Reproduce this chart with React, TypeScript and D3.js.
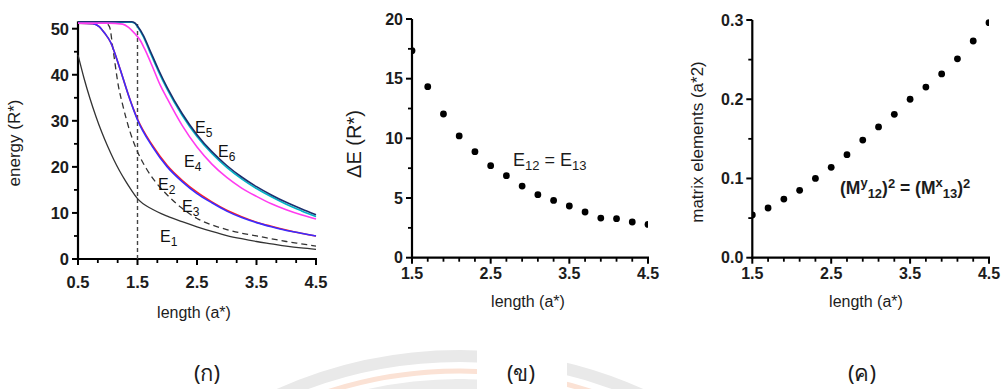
import React from "react";
import * as d3 from "d3";

// ---------- panel (ก): energy levels vs length ----------
const e1Curve: [number, number][] = [
  [0.5, 44.3], [0.6, 39.3], [0.7, 34.9], [0.8, 31.0], [0.9, 27.5], [1.0, 24.4],
  [1.1, 21.6], [1.2, 19.1], [1.3, 16.9], [1.4, 14.9], [1.5, 13.1], [1.75, 10.8],
  [2.0, 9.3], [2.25, 8.1], [2.5, 7.0], [2.75, 6.0], [3.0, 5.1], [3.25, 4.4],
  [3.5, 3.8], [3.75, 3.3], [4.0, 2.8], [4.25, 2.4], [4.5, 2.1],
];
const dashedCurve: [number, number][] = [
  [0.5, 51.2], [0.8, 51.2], [0.98, 51.1], [1.03, 50.4], [1.09, 45.4], [1.18, 37.5],
  [1.25, 33.5], [1.37, 27.8], [1.5, 23.3], [1.65, 19.6], [1.8, 16.8], [2.0, 13.9],
  [2.25, 11.0], [2.5, 8.8], [2.75, 7.4], [3.0, 6.4], [3.25, 5.6], [3.5, 5.0],
  [3.75, 4.4], [4.0, 3.8], [4.25, 3.3], [4.5, 2.8],
];
const e2Curve: [number, number][] = [
  [0.5, 51.2], [0.75, 51.1], [0.85, 50.5], [0.95, 49.0], [1.05, 47.0], [1.15, 43.5],
  [1.25, 39.5], [1.35, 35.5], [1.5, 30.4], [1.75, 24.7], [2.0, 20.3], [2.25, 17.1],
  [2.5, 14.5], [2.75, 12.4], [3.0, 10.6], [3.25, 9.2], [3.5, 8.0], [3.75, 7.1],
  [4.0, 6.3], [4.25, 5.6], [4.5, 5.0],
];
const e3Curve: [number, number][] = [
  [0.5, 51.2], [0.75, 51.1], [0.85, 50.5], [0.95, 49.0], [1.05, 47.0], [1.15, 43.5],
  [1.25, 39.5], [1.35, 35.5], [1.5, 30.2], [1.75, 24.4], [2.0, 20.0], [2.25, 16.8],
  [2.5, 14.2], [2.75, 12.2], [3.0, 10.4], [3.25, 9.0], [3.5, 7.9], [3.75, 7.0],
  [4.0, 6.2], [4.25, 5.6], [4.5, 5.0],
];
const e4Curve: [number, number][] = [
  [0.5, 51.2], [1.0, 51.2], [1.25, 51.0], [1.35, 50.3], [1.45, 49.0], [1.54, 47.6],
  [1.62, 45.6], [1.75, 41.8], [1.88, 37.8], [2.0, 34.8], [2.25, 29.0], [2.5, 24.3],
  [2.75, 20.6], [3.0, 17.7], [3.25, 15.4], [3.5, 13.6], [3.75, 12.0], [4.0, 10.7],
  [4.25, 9.6], [4.5, 8.7],
];
const e5Curve: [number, number][] = [
  [0.5, 51.5], [1.0, 51.5], [1.4, 51.5], [1.45, 51.3], [1.5, 50.6], [1.6, 48.5],
  [1.7, 45.6], [1.85, 41.2], [2.0, 37.2], [2.25, 31.6], [2.5, 27.0], [2.75, 23.3],
  [3.0, 20.3], [3.25, 17.8], [3.5, 15.7], [3.75, 13.9], [4.0, 12.3], [4.25, 10.9],
  [4.5, 9.6],
];
const e6Curve: [number, number][] = [
  [0.5, 51.4], [1.0, 51.4], [1.4, 51.4], [1.45, 51.2], [1.5, 50.4], [1.6, 48.2],
  [1.7, 45.2], [1.85, 40.8], [2.0, 36.8], [2.25, 31.2], [2.5, 26.6], [2.75, 22.9],
  [3.0, 19.9], [3.25, 17.4], [3.5, 15.3], [3.75, 13.5], [4.0, 11.9], [4.25, 10.5],
  [4.5, 9.2],
];
const energyTicksY = [0, 10, 20, 30, 40, 50];
const lengthTicksA = [0.5, 1.5, 2.5, 3.5, 4.5];

// ---------- panel (ข): transition energy ----------
const lengthPoints = [1.5, 1.7, 1.9, 2.1, 2.3, 2.5, 2.7, 2.9, 3.1, 3.3, 3.5, 3.7, 3.9, 4.1, 4.3, 4.5];
const deltaE = [17.35, 14.33, 12.04, 10.2, 8.88, 7.71, 6.87, 6.0, 5.28, 4.8, 4.33, 3.83, 3.32, 3.27, 2.99, 2.79];
const deltaTicksY = [0, 5, 10, 15, 20];

// ---------- panel (ค): squared matrix elements ----------
const matrixSq = [0.0539, 0.0627, 0.074, 0.085, 0.1, 0.114, 0.13, 0.1485, 0.165, 0.181, 0.2, 0.2154, 0.232, 0.251, 0.2735, 0.2966];
const matrixTicksY = [0.0, 0.1, 0.2, 0.3];
const lengthTicksB = [1.5, 2.5, 3.5, 4.5];

const FONT = "Liberation Sans, Arial, Helvetica, sans-serif";
const INK = "#1c1c1c";

type AxisSpec = {
  x: d3.ScaleLinear<number, number>;
  y: d3.ScaleLinear<number, number>;
  xTicks: number[];
  xMinor: number[];
  yTicks: number[];
  yMinor: number[];
  xFmt: (v: number) => string;
  yFmt: (v: number) => string;
  yTop: number;
  tickFont: number;
  xLabelGap: number;
};

function Axes({ a }: { a: AxisSpec }) {
  const [x0, x1] = a.x.range();
  const y0 = a.y(0);
  const yT = a.y(a.yTop);
  return (
    <g>
      <line x1={x0} x2={x0} y1={y0 + 1} y2={yT} stroke="#000" strokeWidth={2.2} />
      <line x1={x0 - 1} x2={x1 + 1} y1={y0} y2={y0} stroke="#000" strokeWidth={2.2} />
      {a.xTicks.map((t) => (
        <g key={"xt" + t}>
          <line x1={a.x(t)} x2={a.x(t)} y1={y0} y2={y0 + 6} stroke="#000" strokeWidth={2} />
          <text x={a.x(t)} y={y0 + a.xLabelGap} textAnchor="middle" fontFamily={FONT}
            fontWeight="bold" fontSize={a.tickFont} fill={INK}>{a.xFmt(t)}</text>
        </g>
      ))}
      {a.xMinor.map((t) => (
        <line key={"xm" + t} x1={a.x(t)} x2={a.x(t)} y1={y0} y2={y0 + 4} stroke="#000" strokeWidth={1.8} />
      ))}
      {a.yTicks.map((t) => (
        <g key={"yt" + t}>
          <line x1={x0 - 6} x2={x0} y1={a.y(t)} y2={a.y(t)} stroke="#000" strokeWidth={2} />
          <text x={x0 - 9} y={a.y(t)} dy="0.36em" textAnchor="end" fontFamily={FONT}
            fontWeight="bold" fontSize={a.tickFont} fill={INK}>{a.yFmt(t)}</text>
        </g>
      ))}
      {a.yMinor.map((t) => (
        <line key={"ym" + t} x1={x0 - 4} x2={x0} y1={a.y(t)} y2={a.y(t)} stroke="#000" strokeWidth={1.8} />
      ))}
    </g>
  );
}

function minorTicks(lo: number, hi: number, step: number, majors: number[]) {
  const out: number[] = [];
  const n = Math.round((hi - lo) / step);
  for (let i = 0; i <= n; i++) {
    const v = lo + i * step;
    if (!majors.some((m) => Math.abs(m - v) < 1e-6)) out.push(v);
  }
  return out;
}

export default function App() {
  // panel (ก)
  const xA = d3.scaleLinear().domain([0.5, 4.5]).range([78, 316]);
  const yA = d3.scaleLinear().domain([0, 50]).range([259, 28.7]);
  const lineA = d3.line<[number, number]>().x((d) => xA(d[0])).y((d) => yA(d[1])).curve(d3.curveMonotoneX);

  // panel (ข)
  const xB = d3.scaleLinear().domain([1.5, 4.5]).range([412, 648]);
  const yB = d3.scaleLinear().domain([0, 20]).range([257.7, 19]);

  // panel (ค)
  const xC = d3.scaleLinear().domain([1.5, 4.5]).range([752.3, 989]);
  const yC = d3.scaleLinear().domain([0, 0.3]).range([257.7, 20]);

  const axA: AxisSpec = {
    x: xA, y: yA, xTicks: lengthTicksA, xMinor: minorTicks(0.5, 4.5, 1 / 3, lengthTicksA),
    yTicks: energyTicksY, yMinor: minorTicks(0, 50, 5, energyTicksY),
    xFmt: d3.format(".1f"), yFmt: d3.format("d"), yTop: 51.6, tickFont: 16.5, xLabelGap: 29,
  };
  const axB: AxisSpec = {
    x: xB, y: yB, xTicks: lengthTicksB, xMinor: minorTicks(1.5, 4.5, 0.2, lengthTicksB),
    yTicks: deltaTicksY, yMinor: minorTicks(0, 20, 2.5, deltaTicksY),
    xFmt: d3.format(".1f"), yFmt: d3.format("d"), yTop: 20, tickFont: 16, xLabelGap: 21,
  };
  const axC: AxisSpec = {
    x: xC, y: yC, xTicks: lengthTicksB, xMinor: minorTicks(1.5, 4.5, 0.2, lengthTicksB),
    yTicks: matrixTicksY, yMinor: minorTicks(0, 0.3, 0.05, matrixTicksY),
    xFmt: d3.format(".1f"), yFmt: d3.format(".1f"), yTop: 0.3, tickFont: 16, xLabelGap: 21,
  };

  const eLabel = (x: number, y: number, sub: string) => (
    <text x={x} y={y} fontFamily={FONT} fontSize={16} fill="#111">
      E<tspan fontSize={12} dy={4}>{sub}</tspan>
    </text>
  );

  // emblem arcs: circle centred below the page
  const ecx = 460;
  const ecy = 800;
  const ring = (r: number) => d3.arc()({ innerRadius: r, outerRadius: r, startAngle: -0.9, endAngle: 0.9 }) ?? "";

  return (
    <svg width={1004} height={389} viewBox="0 0 1004 389"
      style={{ position: "absolute", left: 0, top: 0, background: "#fff" }}>
      <defs>
        <clipPath id="clipB"><rect x={412} y={10} width={236} height={248} /></clipPath>
        <clipPath id="clipC"><rect x={752.3} y={10} width={236.7} height={248} /></clipPath>
      </defs>

      {/* faint emblem behind the captions */}
      <g transform={`translate(${ecx},${ecy})`}>
        <path d={ring(444)} fill="none" stroke="#e9e9e9" strokeWidth={12} />
        <path d={ring(429)} fill="none" stroke="#fbe2d5" strokeWidth={5} />
        <path d={ring(412)} fill="none" stroke="#ececec" strokeWidth={18} />
      </g>
      <rect x={477} y={330} width={90} height={59} fill="#fff" />

      {/* panel (ก) */}
      <Axes a={axA} />
      <line x1={xA(1.5)} x2={xA(1.5)} y1={yA(0)} y2={yA(51.5)} stroke="#444" strokeWidth={1.4} strokeDasharray="4,3" />
      <path d={lineA(e1Curve) ?? ""} fill="none" stroke="#333" strokeWidth={1.3} />
      <path d={lineA(dashedCurve) ?? ""} fill="none" stroke="#333" strokeWidth={1.3} strokeDasharray="6,4" />
      <path d={lineA(e2Curve) ?? ""} fill="none" stroke="#ff2222" strokeWidth={1.6} />
      <path d={lineA(e3Curve) ?? ""} fill="none" stroke="#3a2cff" strokeWidth={1.6} />
      <path d={lineA(e6Curve) ?? ""} fill="none" stroke="#00b4c8" strokeWidth={1.6} />
      <path d={lineA(e5Curve) ?? ""} fill="none" stroke="#1b2f6e" strokeWidth={1.6} />
      <path d={lineA(e4Curve) ?? ""} fill="none" stroke="#ff3cf0" strokeWidth={1.6} />
      {eLabel(195, 133, "5")}
      {eLabel(218, 157, "6")}
      {eLabel(184, 167, "4")}
      {eLabel(158, 190, "2")}
      {eLabel(182, 212, "3")}
      {eLabel(160, 242, "1")}
      <text transform={`translate(20,143) rotate(-90)`} textAnchor="middle" fontFamily={FONT}
        fontSize={17} fill={INK}>energy (R*)</text>
      <text x={194} y={318} textAnchor="middle" fontFamily={FONT} fontSize={16} fill={INK}>length (a*)</text>

      {/* panel (ข) */}
      <Axes a={axB} />
      <g clipPath="url(#clipB)">
        {lengthPoints.map((l, i) => (
          <circle key={"b" + l} cx={xB(l)} cy={yB(deltaE[i])} r={3.4} fill="#000" />
        ))}
      </g>
      <text x={513} y={166} fontFamily={FONT} fontSize={18} fill={INK}>
        E<tspan fontSize={13} dy={4}>12</tspan><tspan dy={-4}> = E</tspan><tspan fontSize={13} dy={4}>13</tspan>
      </text>
      <text transform={`translate(361,144) rotate(-90)`} textAnchor="middle" fontFamily={FONT}
        fontSize={20} fill={INK}>ΔE (R*)</text>
      <text x={528} y={307} textAnchor="middle" fontFamily={FONT} fontSize={16} fill={INK}>length (a*)</text>

      {/* panel (ค) */}
      <Axes a={axC} />
      <g clipPath="url(#clipC)">
        {lengthPoints.map((l, i) => (
          <circle key={"c" + l} cx={xC(l)} cy={yC(matrixSq[i])} r={3.4} fill="#000" />
        ))}
      </g>
      <text x={840} y={194} fontFamily={FONT} fontSize={17.5} fontWeight="bold" fill={INK}>
        (M<tspan fontSize={13} dy={-7}>y</tspan><tspan fontSize={13} dy={11}>12</tspan>
        <tspan dy={-4}>)</tspan><tspan fontSize={13} dy={-6}>2</tspan><tspan dy={6}> = (M</tspan>
        <tspan fontSize={13} dy={-7}>x</tspan><tspan fontSize={13} dy={11}>13</tspan>
        <tspan dy={-4}>)</tspan><tspan fontSize={13} dy={-6}>2</tspan>
      </text>
      <text transform={`translate(703,142) rotate(-90)`} textAnchor="middle" fontFamily={FONT}
        fontSize={17} fill={INK}>matrix elements (a*2)</text>
      <text x={866} y={307} textAnchor="middle" fontFamily={FONT} fontSize={16} fill={INK}>length (a*)</text>

      {/* captions */}
      <text x={207} y={381} textAnchor="middle" fontFamily="Noto Sans, DejaVu Sans, sans-serif" fontSize={22} fill={INK}>(ก)</text>
      <text x={521} y={381} textAnchor="middle" fontFamily="Noto Sans, DejaVu Sans, sans-serif" fontSize={22} fill={INK}>(ข)</text>
      <text x={862} y={381} textAnchor="middle" fontFamily="Noto Sans, DejaVu Sans, sans-serif" fontSize={22} fill={INK}>(ค)</text>
    </svg>
  );
}
